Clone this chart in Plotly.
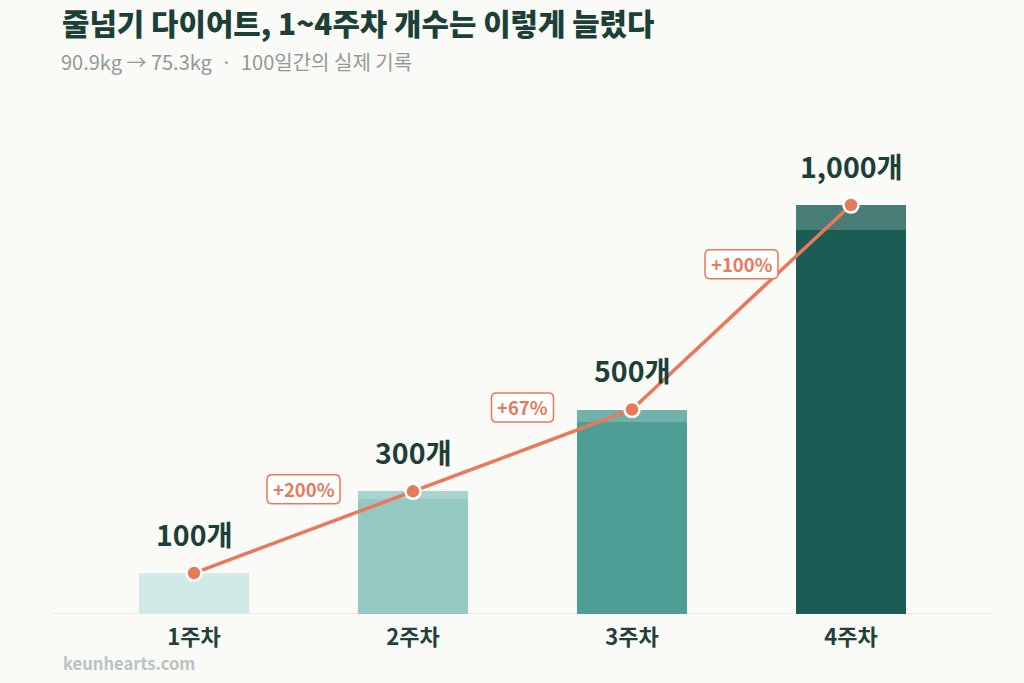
import plotly.graph_objects as go

weeks = ["1주차", "2주차", "3주차", "4주차"]
counts = [100, 300, 500, 1000]
bar_colors = ["#d0e8e6", "#94c8c2", "#4f9e96", "#1b5c55"]
title = "줄넘기 다이어트, 1~4주차 개수는 이렇게 늘렸다"
subtitle = "90.9kg → 75.3kg\u00a0 · \u00a0100일간의 실제 기록"
footer = "keunhearts.com"

FONT = "Noto Sans CJK KR"
DARK = "#1c3f38"
ORANGE = "#e8795a"
BG = "#fafaf7"

xs = list(range(len(weeks)))
L, R, T, B = 52, 31, 100, 69
W, H = 1024, 683
pw, ph = W - L - R, H - T - B

fig = go.Figure()
fig.add_trace(go.Bar(x=xs, y=counts, width=0.5, marker=dict(color=bar_colors, line=dict(width=0)),
                     hoverinfo="skip", showlegend=False))
# lighter cap on top of each bar
fig.add_trace(go.Bar(x=xs, y=[c * 0.06 for c in counts], base=[c * 0.94 for c in counts], width=0.5,
                     marker=dict(color="rgba(255,255,255,0.2)", line=dict(width=0)),
                     hoverinfo="skip", showlegend=False))
fig.add_trace(go.Scatter(x=xs, y=counts, mode="lines+markers",
                         line=dict(color=ORANGE, width=3.5),
                         marker=dict(size=15, color=ORANGE, line=dict(color="white", width=2.5)),
                         hoverinfo="skip", showlegend=False))

ann = []
shapes = [dict(type="line", xref="paper", yref="y", x0=0, x1=1, y0=0, y1=0,
               line=dict(color="#e4e7e3", width=1.5), layer="below")]
for x, c in zip(xs, counts):
    ann.append(dict(x=x, y=c, text=f"{c:,}개", showarrow=False, yshift=40, yanchor="middle",
                    font=dict(family=FONT, size=28.5, color=DARK, weight=700)))


def rounded_box(w, h, r, dy):
    x0, x1 = -w / 2, w / 2
    y0, y1 = dy - h / 2, dy + h / 2
    return (f"M {x0 + r},{y0} L {x1 - r},{y0} Q {x1},{y0} {x1},{y0 + r} L {x1},{y1 - r} "
            f"Q {x1},{y1} {x1 - r},{y1} L {x0 + r},{y1} Q {x0},{y1} {x0},{y1 - r} "
            f"L {x0},{y0 + r} Q {x0},{y0} {x0 + r},{y0} Z")


for i in range(len(counts) - 1):
    pct = round((counts[i + 1] - counts[i]) / counts[i] * 100)
    label = f"+{pct}%"
    xm = xs[i] + 0.5
    ym = (counts[i] + counts[i + 1]) / 2
    bw = 11 * len(label) + 18
    shapes.append(dict(type="path", xref="x", yref="y", xsizemode="pixel", ysizemode="pixel",
                       xanchor=xm, yanchor=ym, path=rounded_box(bw, 29, 5, 43),
                       fillcolor="white", line=dict(color=ORANGE, width=1.5), layer="above"))
    ann.append(dict(x=xm, y=ym, text=label, showarrow=False, yshift=43, yanchor="middle",
                    font=dict(family=FONT, size=18.5, color=ORANGE, weight=700)))


def px(xp):
    return (xp - L) / pw


def py(yp):
    return (H - B - yp) / ph


ann.append(dict(xref="paper", yref="paper", x=px(60), y=py(22), text=title, showarrow=False,
                xanchor="left", yanchor="middle", font=dict(family=FONT, size=29.8, color=DARK, weight=800)))
ann.append(dict(xref="paper", yref="paper", x=px(59), y=py(61), text=subtitle, showarrow=False,
                xanchor="left", yanchor="middle", font=dict(family=FONT, size=20, color="#8f9b97")))
ann.append(dict(xref="paper", yref="paper", x=px(61), y=py(663), text=footer, showarrow=False,
                xanchor="left", yanchor="middle", font=dict(family=FONT, size=16.6, color="#b8c4c1", weight=700)))

span = pw / 219.0
fig.update_layout(
    width=W, height=H, margin=dict(l=L, r=R, t=T, b=B),
    paper_bgcolor=BG, plot_bgcolor=BG, barmode="overlay", bargap=0,
    annotations=ann, shapes=shapes,
    xaxis=dict(range=[-span / 2 + 1.5, span / 2 + 1.5], tickvals=xs, ticktext=weeks,
               showgrid=False, zeroline=False, showline=False, ticks="", ticklabelstandoff=8,
               tickfont=dict(family=FONT, size=22, color="#24403a", weight=700)),
    yaxis=dict(range=[0, ph / 0.409], visible=False, showgrid=False, zeroline=False),
)
fig.write_html("out.html")
